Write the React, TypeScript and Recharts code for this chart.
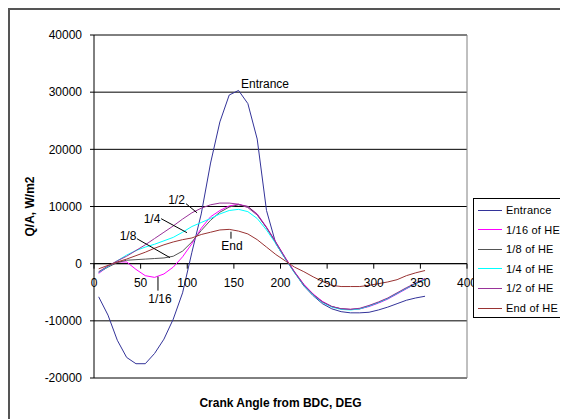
import React from 'react';
import {
  LineChart, Line, XAxis, YAxis, CartesianGrid, ReferenceLine, ReferenceDot, Legend,
} from 'recharts';

const angles = [5, 15, 25, 35, 45, 55, 65, 75, 85, 95, 105, 115, 125, 135, 145, 155, 165, 175, 185, 195, 205, 215, 225, 235, 245, 255, 265, 275, 285, 295, 305, 315, 325, 335, 345, 355];

const entrance = [-5800, -9000, -13400, -16400, -17500, -17500, -15700, -13200, -9700, -5100, 2000, 8700, 17600, 24800, 29500, 30300, 28000, 21800, 9300, 3500, 900, -1500, -3900, -5600, -7000, -7900, -8400, -8600, -8600, -8500, -8100, -7600, -7000, -6400, -6000, -5700];
const he16 = [-1700, -500, 300, 300, -1000, -2100, -2400, -1800, -600, 1200, 3500, 6200, 8200, 9300, 10100, 10400, 10000, 8700, 6400, 3800, 1100, -1400, -3600, -5300, -6600, -7500, -7900, -8000, -7900, -7500, -6900, -6200, -5300, -4400, -3500, -2700];
const he8 = [-1500, -600, 200, 600, 700, 800, 900, 1000, 1300, 2200, 3800, 5800, 7600, 9000, 9900, 10300, 10000, 8600, 6300, 3700, 1000, -1500, -3700, -5400, -6700, -7500, -7900, -8000, -7900, -7400, -6800, -6100, -5200, -4300, -3500, -2800];
const he4 = [-1500, -500, 500, 1500, 2300, 2900, 3400, 4000, 4600, 5500, 6500, 7200, 7900, 8700, 9300, 9500, 9100, 7900, 5900, 3500, 900, -1600, -3800, -5500, -6800, -7600, -8000, -8100, -7900, -7400, -6800, -6100, -5200, -4300, -3500, -2800];
const he2 = [-1400, -400, 500, 1300, 2300, 3300, 4400, 5500, 6600, 7800, 8900, 9700, 10300, 10600, 10600, 10400, 9800, 8500, 6300, 3700, 1000, -1500, -3700, -5400, -6700, -7500, -7900, -8000, -7800, -7300, -6700, -6000, -5100, -4200, -3400, -2600];
const heEnd = [-900, -300, 300, 800, 1400, 2000, 2700, 3300, 3800, 4200, 4500, 5100, 5500, 5900, 6000, 5700, 5200, 4200, 2900, 1600, 500, -600, -1400, -2300, -3100, -3800, -4000, -4000, -4000, -3800, -3500, -3200, -2800, -2100, -1600, -1200];

const xTicks = [0, 50, 100, 150, 200, 250, 300, 350, 400];
const yTicks = [-20000, -10000, 0, 10000, 20000, 30000, 40000];

const seriesNames = ['Entrance', '1/16 of HE', '1/8 of HE', '1/4 of HE', '1/2 of HE', 'End of HE'];
const seriesKeys = ['entrance', 'he16', 'he8', 'he4', 'he2', 'heEnd'];
const seriesColors = ['#333399', '#ff00ff', '#555555', '#00ffff', '#993399', '#993333'];

const annotationTexts = [
  { text: 'Entrance', x: 157.6, y: 31470, anchor: 'start' },
  { text: '1/2', x: 88.5, y: 11200, anchor: 'middle' },
  { text: '1/4', x: 62.2, y: 7870, anchor: 'middle' },
  { text: '1/8', x: 36.5, y: 4900, anchor: 'middle' },
  { text: '1/16', x: 70.8, y: -6120, anchor: 'middle' },
  { text: 'End', x: 148, y: 3150, anchor: 'middle' },
];
const leaderLines = [
  [{ x: 98.7, y: 10490 }, { x: 110.5, y: 8900 }],
  [{ x: 72, y: 7870 }, { x: 99.7, y: 5420 }],
  [{ x: 46, y: 4370 }, { x: 81.5, y: 1050 }],
  [{ x: 68.6, y: -2270 }, { x: 68.6, y: -4720 }],
  [{ x: 146.9, y: 5590 }, { x: 146.9, y: 4370 }],
];

const data = angles.map((a, i) => ({
  angle: a,
  entrance: entrance[i],
  he16: he16[i],
  he8: he8[i],
  he4: he4[i],
  he2: he2[i],
  heEnd: heEnd[i],
}));

const FONT = '"Liberation Sans", Arial, sans-serif';

const renderYTitle = (props: any) => {
  const vb = props.viewBox || { x: 0, y: 25, width: 84, height: 343 };
  const cx = vb.x + 20;
  const cy = vb.y + vb.height / 2;
  return (
    <text x={cx} y={cy} transform={`rotate(-90 ${cx} ${cy})`} textAnchor="middle" dominantBaseline="central"
      fontWeight="bold" fontSize={12} fontFamily={FONT} fill="#000">Q/A, W/m2</text>
  );
};

const renderLegend = () => (
  <div style={{ width: 92, height: 118, border: '1px solid #000', background: '#fff', position: 'relative', fontFamily: FONT, fontSize: 11 }}>
    {seriesNames.map((name, i) => (
      <div key={name} style={{ position: 'absolute', left: 4, top: 11 + i * 19.6 - 7, height: 14, display: 'flex', alignItems: 'center', whiteSpace: 'nowrap' }}>
        <span style={{ display: 'inline-block', width: 24, height: 1, background: seriesColors[i], marginRight: 4 }} />
        <span style={{ color: '#000', letterSpacing: 0.2 }}>{name}</span>
      </div>
    ))}
  </div>
);

export default function App() {
  return (
    <div style={{ width: 558, height: 409, borderLeft: '2px solid #555', borderTop: '2px solid #555', position: 'relative', fontFamily: FONT, background: '#fff' }}>
      <LineChart width={558} height={409} data={data} margin={{ top: 25, right: 101, bottom: 0, left: 0 }}>
        <CartesianGrid vertical={false} stroke="#000" strokeDasharray="" />
        <XAxis dataKey="angle" type="number" domain={[0, 400]} ticks={xTicks} height={41}
          axisLine={false} tickLine={false} tick={false}
          label={{ value: 'Crank Angle from BDC, DEG', position: 'insideBottom', offset: 12, style: { fontWeight: 'bold', fontSize: 12, fontFamily: FONT, fill: '#000' } }} />
        <YAxis type="number" domain={[-20000, 40000]} ticks={yTicks} width={84} interval={0}
          axisLine={{ stroke: '#000' }} tickLine={{ stroke: '#000' }} tickSize={4} tickMargin={8}
          tick={{ fontSize: 12, fill: '#000', fontFamily: FONT }}
          label={{ content: renderYTitle }} />
        <ReferenceLine y={40000} stroke="#808080" />
        <ReferenceLine y={-20000} stroke="#808080" />
        <ReferenceLine x={400} stroke="#808080" />
        <ReferenceLine y={0} stroke="#000" />
        {xTicks.map((t) => (
          <ReferenceDot key={'xt' + t} x={t} y={0} r={0}
            shape={(p: any) => (
              <g>
                <line x1={p.cx} x2={p.cx} y1={p.cy} y2={p.cy + 5} stroke="#000" />
                <text x={p.cx} y={p.cy + 23} textAnchor="middle" fontSize={12} fontFamily={FONT} fill="#000">{t}</text>
              </g>
            )} />
        ))}
        {seriesKeys.map((k, i) => (
          <Line key={k} type="linear" dataKey={k} name={seriesNames[i]} stroke={seriesColors[i]} strokeWidth={1}
            dot={false} activeDot={false} isAnimationActive={false} />
        ))}
        {leaderLines.map((seg, i) => (
          <ReferenceLine key={'ll' + i} segment={seg as any} stroke="#000" />
        ))}
        {annotationTexts.map((a, i) => (
          <ReferenceDot key={'at' + i} x={a.x} y={a.y} r={0}
            shape={(p: any) => (
              <text x={p.cx} y={p.cy} textAnchor={a.anchor as any} dominantBaseline="central" fontSize={12} fontFamily={FONT} fill="#000">{a.text}</text>
            )} />
        ))}
        <Legend layout="vertical" align="center" verticalAlign="middle" content={renderLegend}
          wrapperStyle={{ left: 463, top: 188, width: 94 }} />
      </LineChart>
    </div>
  );
}
